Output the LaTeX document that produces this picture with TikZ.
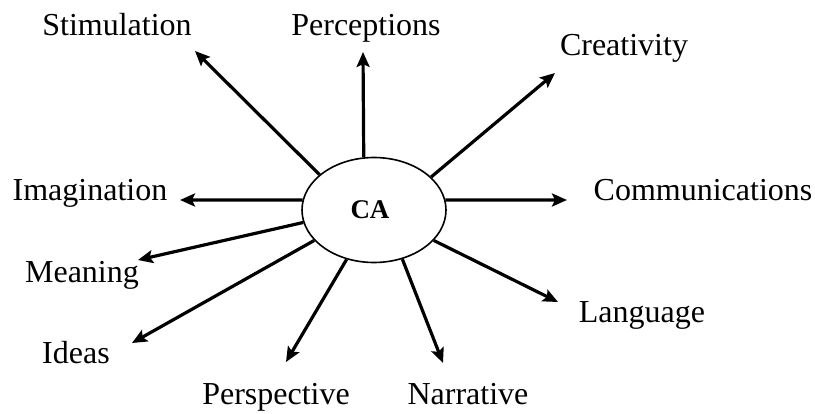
\documentclass[tikz,border=0pt]{standalone}
\usepackage{fontspec}
\setmainfont{Liberation Serif}
\usepackage{tikz}
\usetikzlibrary{shapes.geometric, arrows.meta}

\begin{document}
\begin{tikzpicture}[x=0.5pt, y=-0.5pt,
    hub/.style={ellipse, draw, line width=0.8pt, minimum width=72pt, minimum height=52.5pt, inner sep=0pt},
    hubtext/.style={anchor=base, inner sep=0pt, font=\fontsize{13.5}{16}\selectfont\bfseries},
    lbl/.style={anchor=base, inner sep=0pt, font=\fontsize{16}{19}\selectfont},
    arrow/.style={-{Stealth[length=7.5pt, width=6.5pt, inset=1.5pt]}, line width=1.6pt}
]
\useasboundingbox (0,0) rectangle (815,413);

% Centre
\node[hub] (ca) at (374,210) {};
\node[hubtext] (catext) at (370,218) {CA};

% Labels
\node[lbl] (stim) at (117,35) {Stimulation};
\node[lbl] (perc) at (366,35) {Perceptions};
\node[lbl] (crea) at (624,55) {Creativity};
\node[lbl] (comm) at (703,200) {Communications};
\node[lbl] (imag) at (90,200) {Imagination};
\node[lbl] (mean) at (82,282) {Meaning};
\node[lbl] (idea) at (76,363) {Ideas};
\node[lbl] (lang) at (642,322) {Language};
\node[lbl] (pers) at (276,404) {Perspective};
\node[lbl] (narr) at (468,404) {Narrative};

% Arrow tips
\coordinate (tstim) at (195,51);
\coordinate (tperc) at (363,52);
\coordinate (tcrea) at (555,73);
\coordinate (tcomm) at (567,200);
\coordinate (timag) at (180,200);
\coordinate (tmean) at (138,260);
\coordinate (tidea) at (132,343);
\coordinate (tpers) at (286,362);
\coordinate (tnarr) at (443,363);
\coordinate (tlang) at (558,302);

% Arrows out of the ellipse
\draw[arrow] (ca.147) -- (tstim);
\draw[arrow] (ca.101) -- (tperc);
\draw[arrow] (ca.30) -- (tcrea);
\draw[arrow] (ca.8) -- (tcomm);
\draw[arrow] (ca.172) -- (timag);
\draw[arrow] (ca.190) -- (tmean);
\draw[arrow] (ca.207) -- (tidea);
\draw[arrow] (ca.241) -- (tpers);
\draw[arrow] (ca.300) -- (tnarr);
\draw[arrow] (ca.333) -- (tlang);

\end{tikzpicture}
\end{document}
